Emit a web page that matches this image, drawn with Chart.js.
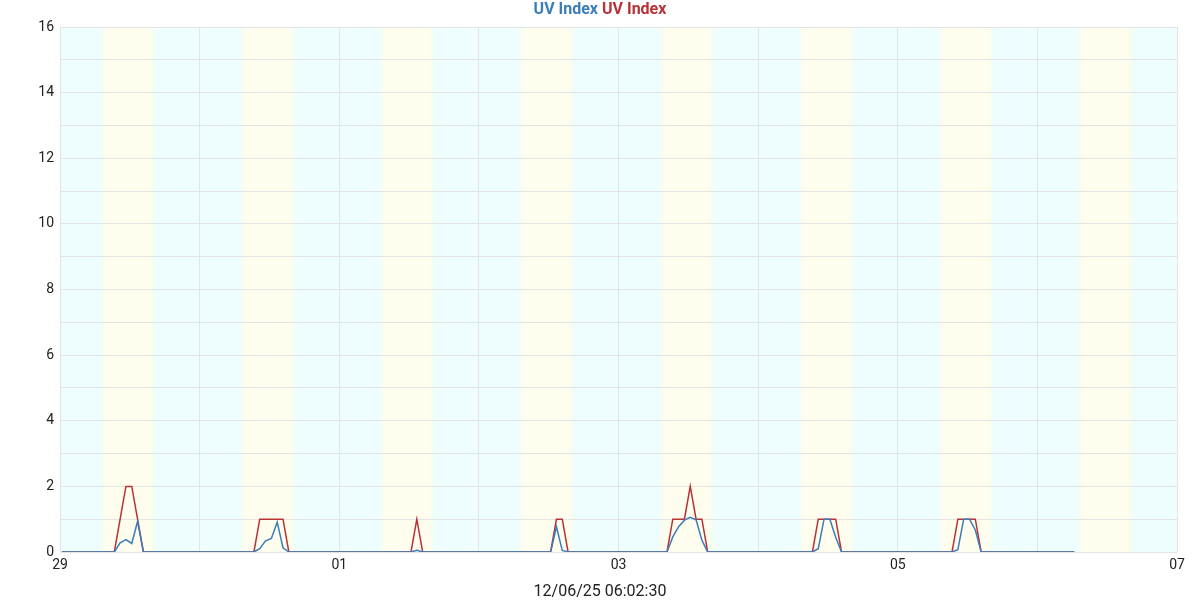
<!DOCTYPE html>
<html>
<head>
<meta charset="utf-8">
<script src="https://cdn.jsdelivr.net/npm/chart.js@4"></script>
<style>
html,body{margin:0;padding:0;background:#fff;}
#wrap{width:1200px;height:600px;position:relative;}
</style>
</head>
<body>
<div id="wrap"><canvas id="c" width="1200" height="600"></canvas></div>
<script>
// ---- data ----
const dayLabels = ['29','30','01','02','03','04','05','06','07'];
const pointMinute = 20;                // readings at hh:20
// UV Index (blue, average) hourly, one row per day, 00:20 .. 23:20
const uvAvg = [
  0,0,0,0,0,0,0,0,0,0,0.28,0.38,0.26,0.93,0,0,0,0,0,0,0,0,0,0,
  0,0,0,0,0,0,0,0,0,0,0.10,0.34,0.41,0.91,0.13,0,0,0,0,0,0,0,0,0,
  0,0,0,0,0,0,0,0,0,0,0,0,0,0.05,0,0,0,0,0,0,0,0,0,0,
  0,0,0,0,0,0,0,0,0,0,0,0,0,0.77,0.05,0,0,0,0,0,0,0,0,0,
  0,0,0,0,0,0,0,0,0,0.46,0.77,0.97,1.06,0.98,0.36,0,0,0,0,0,0,0,0,0,
  0,0,0,0,0,0,0,0,0,0,0.10,1.00,1.00,0.45,0,0,0,0,0,0,0,0,0,0,
  0,0,0,0,0,0,0,0,0,0,0.07,1.00,1.00,0.67,0,0,0,0,0,0,0,0,0,0,
  0,0,0,0,0,0,0
];
// UV Index (red, maximum) hourly
const uvMax = [
  0,0,0,0,0,0,0,0,0,0,1,2,2,1,0,0,0,0,0,0,0,0,0,0,
  0,0,0,0,0,0,0,0,0,0,1,1,1,1,1,0,0,0,0,0,0,0,0,0,
  0,0,0,0,0,0,0,0,0,0,0,0,0,1,0,0,0,0,0,0,0,0,0,0,
  0,0,0,0,0,0,0,0,0,0,0,0,0,1,1,0,0,0,0,0,0,0,0,0,
  0,0,0,0,0,0,0,0,0,1,1,1,2,1,1,0,0,0,0,0,0,0,0,0,
  0,0,0,0,0,0,0,0,0,0,1,1,1,1,0,0,0,0,0,0,0,0,0,0,
  0,0,0,0,0,0,0,0,0,0,1,1,1,1,0,0,0,0,0,0,0,0,0,0,
  0,0,0,0,0,0,0
];
// daylight (hours of day) per day
const sunrise = [7.35,7.38,7.35,7.36,7.38,7.4,7.42,7.45];
const sunset  = [16.0,16.0,15.95,15.96,15.98,16.0,16.02,16.05];
const yTicks = [0,2,4,6,8,10,12,14,16];
const timestamp = '12/06/25 06:02:30';
const titleParts = [['UV Index','#3b7dbb'],['UV Index','#b83236']];

// ---- build ----
const toX = i => i + pointMinute/60;
const avgPts = uvAvg.map((v,i)=>({x:toX(i),y:v}));
const maxPts = uvMax.map((v,i)=>({x:toX(i),y:v}));

const CYAN='rgb(238,253,253)', YEL='rgb(255,253,238)', MID='rgb(246,254,240)';
const bandPlugin = {
  id:'bands',
  beforeDraw(chart){
    const {ctx, chartArea:a, scales:{x}} = chart;
    if(!a) return;
    ctx.save();
    ctx.fillStyle = CYAN;
    ctx.fillRect(a.left,a.top,a.right-a.left,a.bottom-a.top);
    const hw = 0.55;
    sunrise.forEach((sr,d)=>{
      const ss = sunset[d];
      const x0 = x.getPixelForValue(d*24+sr-hw), x1 = x.getPixelForValue(d*24+sr+hw);
      const x2 = x.getPixelForValue(d*24+ss-hw), x3 = x.getPixelForValue(d*24+ss+hw);
      let g = ctx.createLinearGradient(x0,0,x1,0);
      g.addColorStop(0,CYAN); g.addColorStop(0.5,MID); g.addColorStop(1,YEL);
      ctx.fillStyle=g; ctx.fillRect(x0,a.top,x1-x0,a.bottom-a.top);
      ctx.fillStyle=YEL; ctx.fillRect(x1,a.top,x2-x1,a.bottom-a.top);
      g = ctx.createLinearGradient(x2,0,x3,0);
      g.addColorStop(0,YEL); g.addColorStop(0.5,MID); g.addColorStop(1,CYAN);
      ctx.fillStyle=g; ctx.fillRect(x2,a.top,x3-x2,a.bottom-a.top);
    });
    ctx.restore();
  }
};
const textPlugin = {
  id:'texts',
  afterDraw(chart){
    const ctx = chart.ctx;
    ctx.save();
    ctx.font = 'bold 16px Roboto';
    ctx.textBaseline='middle';
    const gap = ctx.measureText(' ').width;
    const widths = titleParts.map(p=>ctx.measureText(p[0]).width);
    const total = widths.reduce((s,w)=>s+w,0)+gap*(titleParts.length-1);
    let xx = 600 - total/2;
    titleParts.forEach((p,i)=>{
      ctx.fillStyle=p[1]; ctx.textAlign='left';
      ctx.fillText(p[0],xx,10);
      xx += widths[i]+gap;
    });
    ctx.font = '16px Roboto';
    ctx.fillStyle='#222';
    ctx.textAlign='center';
    ctx.fillText(timestamp,600,592);
    ctx.restore();
  }
};

new Chart(document.getElementById('c'),{
  type:'line',
  data:{datasets:[
    {label:'UV Index',data:avgPts,borderColor:'#3b7dbb',borderWidth:1.5,pointRadius:0,tension:0,fill:false},
    {label:'UV Index',data:maxPts,borderColor:'#b83236',borderWidth:1.5,pointRadius:0,tension:0,fill:false}
  ]},
  options:{
    responsive:false,animation:false,
    layout:{padding:{top:27,right:23,left:0,bottom:0}},
    plugins:{legend:{display:false},title:{display:false},tooltip:{enabled:false}},
    scales:{
      x:{type:'linear',min:0,max:192,
        afterFit(s){s.height=48;},
        grid:{color:'#e2e4e6',drawTicks:false},
        border:{display:false},
        ticks:{stepSize:24,padding:5,autoSkip:false,maxRotation:0,color:'#222',font:{family:'Roboto',size:14},
          callback:v=>{const d=Math.round(v/24); return d%2===0 ? dayLabels[d] : '';}}
      },
      y:{min:0,max:16,
        afterFit(s){s.width=60;},
        grid:{color:'#e2e4e6',drawTicks:false},
        border:{display:false},
        ticks:{stepSize:1,padding:6,autoSkip:false,color:'#222',font:{family:'Roboto',size:14},
          callback:v=>yTicks.includes(v)?String(v):''}
      }
    }
  },
  plugins:[bandPlugin,textPlugin]
});
</script>
</body>
</html>
